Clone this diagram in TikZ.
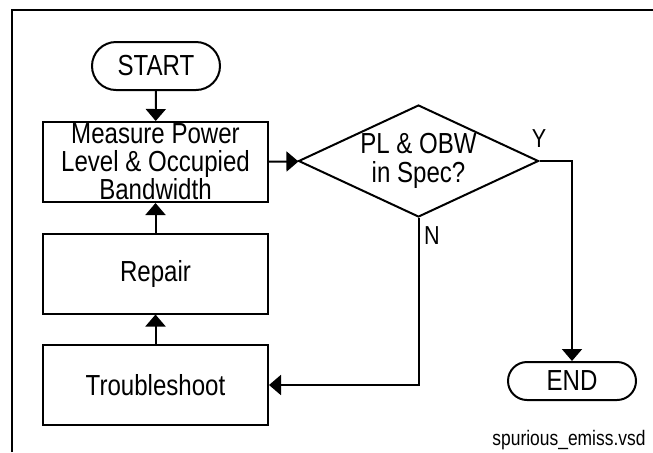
\documentclass[tikz,border=0pt]{standalone}
\usepackage{fontspec}
\setmainfont[FakeStretch=0.83]{Liberation Sans}
\usepackage{tikz}
\usetikzlibrary{arrows.meta, positioning, shapes.geometric, shapes.misc}

\begin{document}
\begin{tikzpicture}[x=0.5pt, y=-0.5pt,
            term/.style={rounded rectangle, draw=black, line width=1pt, minimum width=64pt, inner sep=0pt, font=\fontsize{14.5}{14}\selectfont},
            proc/.style={rectangle, draw=black, line width=1pt, minimum width=112.5pt, minimum height=40pt, inner sep=0pt, align=center, font=\fontsize{14.5}{14}\selectfont},
            decide/.style={diamond, shape aspect=2.14, draw=black, line width=1pt, minimum width=120pt, minimum height=56pt, inner sep=0pt, align=center, font=\fontsize{14.5}{14.5}\selectfont},
            tag/.style={inner sep=0pt, font=\fontsize{13}{14}\selectfont},
            flow/.style={draw=black, line width=1pt, -{Triangle[width=10pt, length=6pt]}}]
            \useasboundingbox (0,0) rectangle (653,452);
            \draw[line width=1.2pt] (12,452) -- (12,10) -- (653,10);
            \node[term, minimum height=24pt] (start) at (156,66) {START};
            \node[proc] (measure) at (155.5,162) {Measure Power\\Level \& Occupied\\Bandwidth};
            \node[proc] (repair) at (155.5,273.5) {Repair};
            \node[proc] (trouble) at (155.5,385) {Troubleshoot};
            \node[decide] (check) at (418.5,161) {PL \& OBW\\in Spec?};
            \node[term, minimum height=19pt] (finish) at (572,381) {END};
            \node[tag] (yes) at (539,139) {Y};
            \node[tag] (no) at (432,236) {N};
            \node[tag, font=\fontsize{10.5}{12}\selectfont] (fname) at (569,440) {spurious\_emiss.vsd};
            \draw[flow] (start) -- (measure);
            \draw[flow] (measure) -- (check);
            \draw[flow] (trouble) -- (repair);
            \draw[flow] (repair) -- (measure);
            \draw[flow] (check.east) -| (finish.north);
            \draw[flow] (check.south) |- (trouble.east);
        \end{tikzpicture}
\end{document}
